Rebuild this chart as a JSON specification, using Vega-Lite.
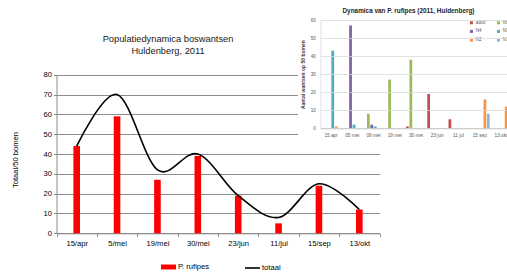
{
  "$schema": "https://vega.github.io/schema/vega-lite/v6.json",
  "width": 507,
  "height": 274,
  "autosize": {"type": "none"},
  "padding": 0,
  "background": "white",
  "config": {"view": {"stroke": null}, "font": "Liberation Sans"},
  "datasets": {
    "main": [
      {"date": "15/apr", "rufipes": 44, "totaal": 44},
      {"date": "5/mei", "rufipes": 59, "totaal": 70},
      {"date": "19/mei", "rufipes": 27, "totaal": 32},
      {"date": "30/mei", "rufipes": 39, "totaal": 40},
      {"date": "23/jun", "rufipes": 19, "totaal": 19},
      {"date": "11/jul", "rufipes": 5, "totaal": 8},
      {"date": "15/sep", "rufipes": 24, "totaal": 25},
      {"date": "13/okt", "rufipes": 12, "totaal": 12}
    ],
    "inset": [
      {"date": "15 apr", "stage": "N3", "count": 43},
      {"date": "15 apr", "stage": "N2", "count": 1},
      {"date": "05 mei", "stage": "N4", "count": 57},
      {"date": "05 mei", "stage": "N3", "count": 2},
      {"date": "09 mei", "stage": "N5", "count": 8},
      {"date": "09 mei", "stage": "N4", "count": 2},
      {"date": "09 mei", "stage": "N3", "count": 1},
      {"date": "19 mei", "stage": "N5", "count": 27},
      {"date": "30 mei", "stage": "adult", "count": 1},
      {"date": "30 mei", "stage": "N5", "count": 38},
      {"date": "23 jun", "stage": "adult", "count": 19},
      {"date": "11 jul", "stage": "adult", "count": 5},
      {"date": "15 sep", "stage": "N2", "count": 16},
      {"date": "15 sep", "stage": "N1", "count": 8},
      {"date": "13 okt", "stage": "N2", "count": 12}
    ]
  },
  "layer": [
    {
      "data": {"name": "main"},
      "encoding": {
        "x": {
          "field": "date", "type": "nominal", "sort": null,
          "scale": {"range": [56.5, 379.5], "paddingInner": 0, "paddingOuter": 0},
          "axis": {
            "orient": "bottom", "offset": -40.7, "tickBand": "extent", "tickSize": 3,
            "tickColor": "#8c8c8c", "domainColor": "#8c8c8c", "labelFontSize": 7.6,
            "labelColor": "#000000", "labelAngle": 0, "labelPadding": 3,
            "title": ["Populatiedynamica boswantsen", "Huldenberg, 2011"],
            "titleX": 167.5, "titleY": -191.6, "titleFontSize": 9.3, "titleFontWeight": "normal",
            "titleColor": "#1a1a1a", "titleAlign": "center", "titleBaseline": "alphabetic",
            "titleLineHeight": 11.6
          }
        },
        "y": {
          "type": "quantitative",
          "scale": {"domain": [0, 80], "range": [233.3, 74.7], "nice": false, "zero": true},
          "axis": {
            "orient": "left", "offset": -56.5, "values": [0, 10, 20, 30, 40, 50, 60, 70, 80],
            "grid": true, "gridColor": "#8c8c8c", "gridWidth": 1, "domainColor": "#8c8c8c",
            "tickColor": "#8c8c8c", "tickSize": 3, "labelFontSize": 7.6, "labelColor": "#000000",
            "labelPadding": 2, "title": "Totaal/50 bomen", "titleFontSize": 7.6,
            "titleFontWeight": "normal", "titleColor": "#000000", "titleX": -41.5, "titleY": 159.5,
            "titleAngle": 270, "titleAlign": "center", "titleBaseline": "middle"
          }
        }
      },
      "layer": [
        {
          "mark": {"type": "bar", "width": 6.6},
          "encoding": {
            "y": {"field": "rufipes", "type": "quantitative"},
            "color": {
              "datum": "P. rufipes", "type": "nominal",
              "scale": {"range": ["#ff0000"]},
              "legend": {
                "orient": "none", "legendX": 161, "legendY": 259.5, "title": null,
                "symbolType": "M-1,-0.33H1V0.33H-1Z", "symbolSize": 225, "symbolStrokeWidth": 0,
                "labelFontSize": 7.6, "labelColor": "#000000", "labelOffset": 2, "padding": 0
              }
            }
          }
        },
        {
          "mark": {"type": "line", "interpolate": "cardinal", "strokeWidth": 1.6},
          "encoding": {
            "y": {"field": "totaal", "type": "quantitative"},
            "stroke": {
              "datum": "totaal", "type": "nominal",
              "scale": {"range": ["#000000"]},
              "legend": {
                "orient": "none", "legendX": 244, "legendY": 259.5, "title": null,
                "symbolType": "stroke", "symbolSize": 225, "symbolStrokeWidth": 1.6,
                "labelFontSize": 7.6, "labelColor": "#000000", "labelOffset": 1, "padding": 0
              }
            }
          }
        }
      ]
    },
    {
      "data": {"name": "inset"},
      "encoding": {
        "x": {
          "field": "date", "type": "nominal",
          "scale": {
            "domain": ["15 apr", "05 mei", "09 mei", "19 mei", "30 mei", "23 jun", "11 jul", "15 sep", "13 okt"],
            "range": [320.4, 511.6], "paddingInner": 0.06, "paddingOuter": 0.03
          },
          "axis": {
            "orient": "bottom", "offset": -145.7, "zindex": 1, "labelFontSize": 4.7, "labelColor": "#595959",
            "labelAngle": 0, "labelPadding": 4, "ticks": false, "domainColor": "#bfbfbf",
            "domainWidth": 0.8, "grid": false,
            "title": "Dynamica van P. rufipes (2011, Huldenberg)",
            "titleX": 408, "titleY": -118.3, "titleFontSize": 6.4, "titleFontWeight": "bold",
            "titleColor": "#262626", "titleAlign": "center", "titleBaseline": "middle"
          }
        }
      },
      "layer": [
        {
          "mark": {"type": "bar", "color": "#ffffff", "width": {"band": 3.3}},
          "encoding": {
            "y": {
              "datum": 62, "type": "quantitative",
              "scale": {"domain": [0, 60], "range": [128.3, 20], "nice": false},
              "axis": {
                "orient": "left", "offset": -320.4, "zindex": 1, "values": [0, 10, 20, 30, 40, 50, 60],
                "grid": true, "gridColor": "#d9d9d9", "gridWidth": 0.8, "domainColor": "#d9d9d9",
                "domainWidth": 0.8, "ticks": false, "labelFontSize": 4.7, "labelColor": "#595959",
                "labelPadding": 5, "title": "Aantal wantsen op 50 bomen", "titleFontSize": 5,
                "titleFontWeight": "bold", "titleColor": "#404040", "titlePadding": 5
              }
            },
            "y2": {"datum": -4}
          }
        },
        {
          "mark": {"type": "bar"},
          "encoding": {
            "xOffset": {
              "field": "stage", "type": "nominal",
              "scale": {"domain": ["adult", "N5", "N4", "N3", "N2", "N1"], "paddingInner": 0.2, "paddingOuter": 0}
            },
            "y": {"field": "count", "type": "quantitative"},
            "color": {
              "field": "stage", "type": "nominal",
              "scale": {
                "domain": ["adult", "N5", "N4", "N3", "N2", "N1"],
                "range": ["#c0504d", "#9bbb59", "#8064a2", "#4bacc6", "#f79646", "#95b3d7"]
              },
              "legend": {
                "orient": "none", "legendX": 469.2, "legendY": 20.4, "columns": 2, "direction": "horizontal",
                "title": null, "symbolType": "square", "symbolSize": 9, "symbolStrokeWidth": 0,
                "labelFontSize": 4.5, "labelColor": "#595959", "labelOffset": 2,
                "rowPadding": 3.8, "columnPadding": 10, "padding": 0
              }
            }
          }
        }
      ]
    }
  ],
  "resolve": {
    "scale": {"x": "independent", "y": "independent", "color": "independent", "xOffset": "independent"},
    "axis": {"x": "independent", "y": "independent"},
    "legend": {"color": "independent"}
  }
}
